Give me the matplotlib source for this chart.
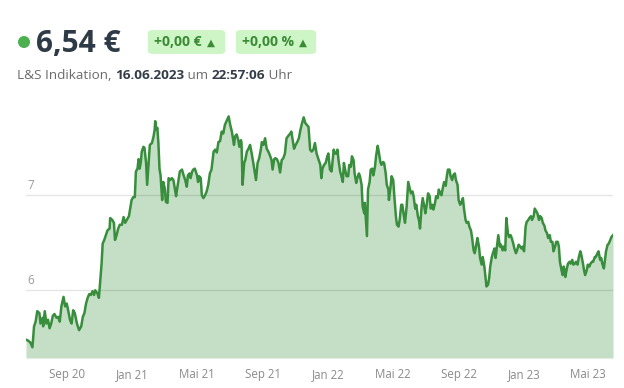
import numpy as np
import pandas as pd
import matplotlib
matplotlib.use("Agg")
import matplotlib.pyplot as plt
from matplotlib.patches import FancyBboxPatch, Ellipse

start_date = "2020-06-16"
end_date = "2023-06-16"
days = [
    0, 4, 8, 12, 15, 18, 21, 25, 27, 31, 32, 35, 38, 41, 44, 47, 50, 53, 57, 60,
    63, 66, 70, 73, 76, 79, 82, 85, 88, 91, 95, 99, 103, 106, 109, 112, 115, 118, 121, 124,
    127, 129, 133, 136, 138, 141, 143, 146, 149, 152, 156, 157, 161, 164, 166, 169, 172,
    175, 179, 182, 185, 188, 192, 195, 197, 200, 203, 205, 208, 210, 212, 214, 216, 219, 221,
    224, 226, 229, 231, 235, 238, 240, 241, 243, 245, 247, 249, 251, 254, 256, 259, 261, 264,
    266, 269, 272, 275, 278, 280, 282, 285, 287, 291, 294, 297, 300, 302, 305, 307, 310, 312,
    315, 319, 321, 323, 326, 328, 331, 334, 337, 340, 343, 346, 350, 353, 356, 359,
    362, 365, 368, 371, 374, 378, 381, 384, 386, 388, 390, 393, 396, 398, 401, 402, 404, 407,
    409, 412, 415, 418, 421, 424, 427, 429, 432, 435, 438, 440, 443, 446, 449, 452, 455, 458,
    460, 463, 465, 468, 471, 474, 477, 480, 483, 486, 490, 493, 495, 498, 500, 503, 506, 509,
    512, 515, 518, 521, 524, 527, 530, 533, 536, 539, 542, 546,
    549, 551, 553, 556, 559, 562, 564, 567, 570, 574, 576, 579, 581, 583, 586, 588, 591, 593,
    596, 598, 601, 603, 606, 608, 611, 613, 616, 618, 621, 623, 626, 628, 631, 632, 634, 636,
    638, 641, 643, 646, 648, 651, 653, 656, 658, 661, 663, 666, 668, 671, 673, 676, 677, 680,
    682, 685, 687, 690, 692, 695, 697, 700, 702, 705, 707, 710, 712, 713, 716, 718, 721, 723,
    726, 728, 731, 733,
    735, 738, 740, 743, 745, 748, 750, 753, 755, 758, 760, 763, 765, 768, 770, 773, 775, 778,
    780, 783, 785, 787, 790, 792, 795, 797, 800, 802, 805, 807, 810, 812, 815, 817, 820, 822,
    825, 827, 830, 832, 835, 837, 840, 842, 845, 847, 850, 852, 855, 857, 859, 862, 864, 866,
    869, 871, 874, 876, 879, 881, 884, 886, 889, 891, 894, 896, 899, 901, 904, 906, 909, 911,
    914, 916, 919,
    922, 924, 927, 929, 932, 934, 937, 939, 942, 944, 947, 949, 952, 954, 957, 959, 962, 964,
    967, 969, 972, 974, 977, 979, 982, 984, 987, 989, 992, 994, 996, 999, 1001, 1003, 1005, 1006,
    1009, 1011, 1014, 1016, 1019, 1021, 1024, 1026, 1029, 1031, 1034, 1036, 1039, 1041, 1043, 1046,
    1048, 1051, 1053, 1056, 1058, 1061, 1063, 1066, 1068, 1071, 1073, 1075, 1078, 1080, 1082, 1085,
    1087, 1090, 1092, 1095,
]
prices = [
    5.48, 5.47, 5.45, 5.40, 5.62, 5.67, 5.78, 5.76, 5.65, 5.71, 5.62, 5.78, 5.65, 5.69, 5.60, 5.65, 5.73, 5.75, 5.71, 5.72,
    5.67, 5.83, 5.93, 5.83, 5.86, 5.78, 5.69, 5.65, 5.79, 5.76, 5.65, 5.58, 5.62, 5.72, 5.76, 5.86, 5.92, 5.96, 5.95, 5.99,
    5.95, 6.00, 5.97, 5.92, 6.07, 6.28, 6.49, 6.53, 6.58, 6.63, 6.65, 6.76, 6.74, 6.71, 6.53, 6.58, 6.65,
    6.69, 6.69, 6.77, 6.71, 6.74, 6.78, 6.88, 6.95, 6.98, 6.98, 7.25, 7.28, 7.38, 7.28, 7.34, 7.46, 7.51, 7.50,
    7.34, 7.11, 7.37, 7.53, 7.55, 7.62, 7.69, 7.78, 7.69, 7.71, 7.55, 7.28, 7.21, 6.95, 7.14, 7.07, 6.93, 6.92,
    7.18, 7.16, 7.18, 7.16, 7.06, 6.99, 7.07, 7.18, 7.25, 7.27, 7.21, 7.16, 7.09, 7.21, 7.23, 7.18, 7.25, 7.27,
    7.28, 7.21, 7.14, 7.20, 7.18, 7.00, 6.97, 7.00, 7.04, 7.11, 7.23, 7.27, 7.46, 7.48, 7.45, 7.56,
    7.57, 7.67, 7.65, 7.74, 7.78, 7.83, 7.74, 7.67, 7.60, 7.53, 7.62, 7.64, 7.58, 7.51, 7.58, 7.55, 7.11, 7.34,
    7.37, 7.46, 7.49, 7.53, 7.44, 7.34, 7.23, 7.16, 7.34, 7.39, 7.48, 7.56, 7.53, 7.60, 7.49, 7.46, 7.42, 7.37,
    7.27, 7.38, 7.39, 7.38, 7.34, 7.24, 7.37, 7.39, 7.44, 7.60, 7.63, 7.65, 7.67, 7.56, 7.49, 7.53, 7.56, 7.60,
    7.69, 7.76, 7.82, 7.76, 7.74, 7.72, 7.48, 7.46, 7.48, 7.55, 7.44, 7.37,
    7.32, 7.18, 7.28, 7.32, 7.34, 7.41, 7.44, 7.27, 7.25, 7.48, 7.44, 7.44, 7.48, 7.37, 7.25, 7.21, 7.14, 7.34,
    7.25, 7.20, 7.20, 7.32, 7.30, 7.41, 7.37, 7.23, 7.13, 7.18, 7.23, 7.20, 7.11, 6.88, 6.81, 6.92, 6.74, 6.57,
    7.06, 7.14, 7.27, 7.28, 7.21, 7.30, 7.41, 7.52, 7.46, 7.35, 7.32, 7.35, 7.34, 7.23, 7.11, 7.06, 6.95, 7.09,
    7.20, 7.16, 7.00, 6.78, 6.69, 6.67, 6.74, 6.90, 6.90, 6.78, 6.71, 6.88, 7.06, 7.14, 7.07, 7.02, 7.04, 6.99,
    6.86, 6.90, 6.78, 6.74,
    6.65, 6.88, 6.97, 6.88, 6.81, 6.92, 7.02, 6.99, 6.86, 6.90, 6.85, 6.92, 6.99, 6.97, 7.06, 7.02, 7.00, 7.09,
    7.14, 7.10, 7.20, 7.27, 7.27, 7.20, 7.16, 7.21, 7.23, 7.16, 7.11, 6.95, 6.90, 6.92, 6.97, 6.86, 6.74, 6.71,
    6.72, 6.67, 6.63, 6.56, 6.42, 6.39, 6.48, 6.55, 6.46, 6.34, 6.27, 6.35, 6.25, 6.14, 6.04, 6.06, 6.13, 6.25,
    6.35, 6.39, 6.44, 6.34, 6.48, 6.58, 6.46, 6.48, 6.42, 6.46, 6.42, 6.76, 6.60, 6.56, 6.58, 6.55, 6.49, 6.44,
    6.39, 6.42, 6.48,
    6.46, 6.44, 6.46, 6.41, 6.67, 6.72, 6.74, 6.76, 6.78, 6.74, 6.78, 6.86, 6.83, 6.81, 6.74, 6.78, 6.76, 6.71,
    6.68, 6.63, 6.60, 6.55, 6.58, 6.51, 6.51, 6.41, 6.46, 6.51, 6.51, 6.46, 6.30, 6.21, 6.16, 6.25, 6.20, 6.14,
    6.23, 6.28, 6.30, 6.28, 6.32, 6.27, 6.28, 6.30, 6.27, 6.34, 6.41, 6.37, 6.28, 6.21, 6.16, 6.21,
    6.27, 6.25, 6.28, 6.30, 6.30, 6.35, 6.35, 6.39, 6.41, 6.32, 6.34, 6.28, 6.23, 6.32, 6.41, 6.48,
    6.49, 6.53, 6.56, 6.58,
]
tick_dates = ["2020-09-01", "2021-01-01", "2021-05-01", "2021-09-01", "2022-01-01",
              "2022-05-01", "2022-09-01", "2023-01-01", "2023-05-01"]
tick_labels = ["Sep 20", "Jan 21", "Mai 21", "Sep 21", "Jan 22",
               "Mai 22", "Sep 22", "Jan 23", "Mai 23"]
y_ticks = [6, 7]
y_min, y_max = 5.287, 7.95

price_text = "6,54 €"
change_abs = "+0,00 €"
change_pct = "+0,00 %"
info_runs = [("L&S Indikation, ", "normal"), ("16.06.2023", "bold"), (" um ", "normal"),
             ("22:57:06", "bold"), (" Uhr", "normal")]

FONT = ["Open Sans", "DejaVu Sans"]
plt.rcParams["font.family"] = FONT

dates = pd.Timestamp(start_date) + pd.to_timedelta(days, unit="D")

W, H = 624, 388
fig = plt.figure(figsize=(W / 100, H / 100), dpi=100)
ax = fig.add_axes([26 / W, (H - 358) / H, 587 / W, (358 - 105) / H])

line_c = "#388e3c"
fill_c = "#c5dfc6"
ax.fill_between(dates, prices, y_min, color=fill_c, lw=0, zorder=1)
ax.plot(dates, prices, color=line_c, lw=1.8, zorder=3, solid_joinstyle="round")

for yv in y_ticks:
    ax.axhline(yv, color="#000000", alpha=0.1, lw=1, zorder=2)
    ax.text(0.002, yv + 0.035, str(yv), transform=ax.get_yaxis_transform(),
            color="#9a9a9a", fontsize=8.5, va="bottom", ha="left")

ax.set_xlim(pd.Timestamp(start_date), pd.Timestamp(end_date))
ax.set_ylim(y_min, y_max)
ax.set_xticks(pd.to_datetime(tick_dates))
ax.set_xticklabels(tick_labels, color="#8a8a8a", fontsize=8.3)
ax.tick_params(axis="x", length=0, pad=7.5)
ax.set_yticks([])
for s in ax.spines.values():
    s.set_visible(False)

# Kopfbereich
def px(x, y):
    return x / W, 1 - y / H

fig.patches.append(Ellipse(px(24, 42), 12 / W, 12 / H, transform=fig.transFigure,
                           facecolor="#4caf50", edgecolor="none"))

fig.text(*px(36, 52), price_text, fontsize=21.5, weight="bold", color="#2e3a46",
         va="baseline", ha="left")

renderer = fig.canvas.get_renderer()
badge_bg = "#cdf5c6"
badge_fg = "#3b8a35"
for (x0, x1), label in [((148, 225), change_abs), ((236, 316), change_pct)]:
    fig.patches.append(FancyBboxPatch(px(x0 + 3, 52), (x1 - x0 - 6) / W, 20 / H,
                                      boxstyle="round,pad=0.005,rounding_size=0.008",
                                      transform=fig.transFigure, facecolor=badge_bg,
                                      edgecolor="none", zorder=0))
    t = fig.text(*px(x0 + 6, 46.5), label, fontsize=10, weight="bold",
                 color=badge_fg, ha="left", va="baseline")
    tw = t.get_window_extent(renderer).width
    fig.text(*px(x0 + 6 + tw + 5, 43), "\u25B2", fontsize=7.5, color=badge_fg,
             ha="left", va="center")

x_cur = 17
for txt, wt in info_runs:
    t = fig.text(*px(x_cur, 79), txt, fontsize=9.7, weight=wt,
                 color="#333d47" if wt == "bold" else "#6b6b6b", va="baseline", ha="left")
    x_cur += t.get_window_extent(renderer).width

fig.savefig("out.png", dpi=100)
